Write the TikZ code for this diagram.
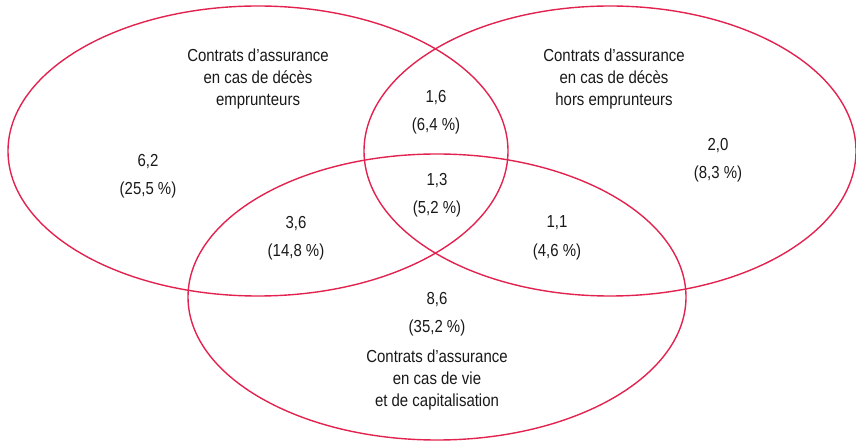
\documentclass[tikz,border=0pt]{standalone}
\usepackage{fontspec}
\setmainfont{Liberation Sans}[FakeStretch=0.86]
\definecolor{vennred}{HTML}{E2234F}
\begin{document}
\begin{tikzpicture}[x=1pt,y=-1pt,
  ring/.style={draw=vennred,line width=1.4pt},
  lbl/.style={align=center,font=\fontsize{17.4}{22}\selectfont,text=black!90,inner sep=0pt},
  num/.style={align=center,font=\fontsize{17.4}{28.5}\selectfont,text=black!90,inner sep=0pt}]
\useasboundingbox (0,0) rectangle (856,443);
\draw[ring] (258,151) ellipse [x radius=250, y radius=145];
\draw[ring] (610,151) ellipse [x radius=246, y radius=145];
\draw[ring] (437,297) ellipse [x radius=249, y radius=143];
\node[lbl] (tl) at (258,79) {Contrats d’assurance\\en cas de décès\\emprunteurs};
\node[lbl] (tr) at (614,79) {Contrats d’assurance\\en cas de décès\\hors emprunteurs};
\node[lbl] (bl) at (437,380) {Contrats d’assurance\\en cas de vie\\et de capitalisation};
\node[num] (a) at (148,176) {6,2\\(25,5 \%)};
\node[num] (b) at (718,160) {2,0\\(8,3 \%)};
\node[num] (c) at (436,112) {1,6\\(6,4 \%)};
\node[num] (d) at (437,195) {1,3\\(5,2 \%)};
\node[num] (e) at (296,238) {3,6\\(14,8 \%)};
\node[num] (f) at (557,238) {1,1\\(4,6 \%)};
\node[num] (g) at (437,314) {8,6\\(35,2 \%)};
\end{tikzpicture}
\end{document}
